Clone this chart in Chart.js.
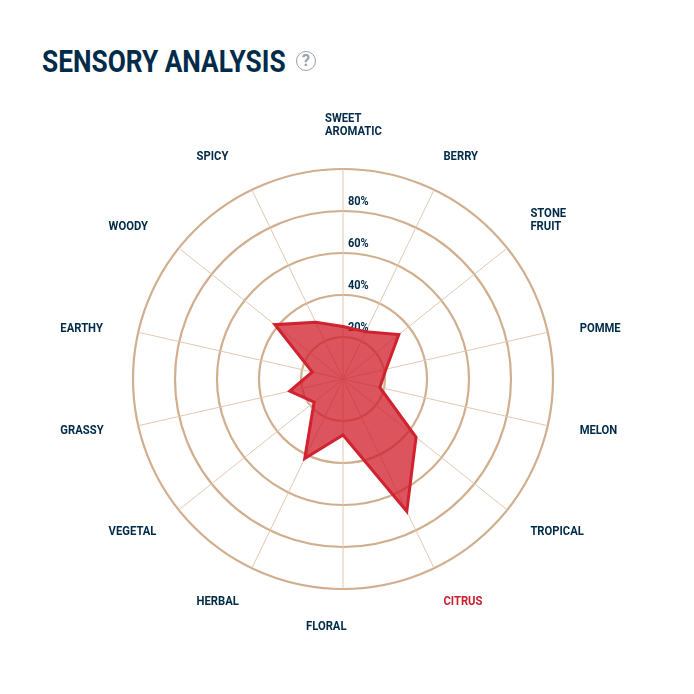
<!DOCTYPE html>
<html>
<head>
<meta charset="utf-8">
<title>Sensory Analysis</title>
<script src="https://cdn.jsdelivr.net/npm/chart.js@4"></script>
<style>
  html, body { margin: 0; padding: 0; background: #fff; }
  #wrap { position: relative; width: 694px; height: 694px; overflow: hidden; }
  #chart { position: absolute; left: 0; top: 0; }
  #title {
    position: absolute; left: 42px; top: 44px; margin: 0;
    font: 700 31px/36px Roboto, sans-serif; color: #002b49; white-space: nowrap;
    transform-origin: left center; transform: scaleX(0.847);
  }
  #help {
    position: absolute; left: 296px; top: 51px; width: 18px; height: 18px;
    border: 1.5px solid #9aa0ad; border-radius: 50%;
    font: 700 16px/18px Roboto, sans-serif; color: #9aa0ad; text-align: center;
  }
</style>
</head>
<body>
<div id="wrap">
  <h1 id="title">SENSORY ANALYSIS</h1>
  <div id="help">?</div>
  <canvas id="chart" width="694" height="694"></canvas>
</div>
<script>
// Datos
const categories = [
  ['SWEET', 'AROMATIC'], 'BERRY', ['STONE', 'FRUIT'], 'POMME', 'MELON', 'TROPICAL', 'CITRUS',
  'FLORAL', 'HERBAL', 'VEGETAL', 'GRASSY', 'EARTHY', 'WOODY', 'SPICY'
];
const sensoryValues = [25, 25, 34, 21, 18, 44.5, 70, 26.7, 42, 17.6, 26, 15, 41.5, 30];
const tickValues = [20, 40, 60, 80];
const highlighted = 'CITRUS';

// Desplazamiento de cada etiqueta respecto a su punto en el radio
const labelRadiusValue = 119;
const labelOffsets = [
  [-18, -4], [-8, 3], [-8, -3], [-7, 5], [-7, -4], [-8, -3], [-8, -2],
  [-37, -2], [-38, -2], [-39, -3], [-39, -4], [-39, 5], [-39, 4], [-38, 3]
];

const navy = '#002b49';

// Dibuja los ticks al lado del eje, debajo del poligono
const tickPlugin = {
  id: 'sideTicks',
  beforeDatasetsDraw(chart) {
    const scale = chart.scales.r, ctx = chart.ctx;
    ctx.save();
    ctx.font = '700 12.5px Roboto, sans-serif';
    ctx.fillStyle = navy;
    ctx.textAlign = 'left';
    ctx.textBaseline = 'middle';
    tickValues.forEach(v => {
      const y = scale.yCenter - scale.getDistanceFromCenterForValue(v);
      ctx.save();
      ctx.translate(scale.xCenter + 5, y - 9);
      ctx.scale(0.88, 1);
      ctx.fillText(v + '%', 0, 0);
      ctx.restore();
    });
    ctx.restore();
  }
};

// Etiquetas alineadas a la izquierda como en el original
const labelPlugin = {
  id: 'leftLabels',
  afterDraw(chart) {
    const scale = chart.scales.r, ctx = chart.ctx;
    ctx.save();
    ctx.font = '700 12.5px Roboto, sans-serif';
    ctx.textAlign = 'left';
    ctx.textBaseline = 'middle';
    categories.forEach((cat, i) => {
      const p = scale.getPointPositionForValue(i, labelRadiusValue);
      const lines = Array.isArray(cat) ? cat : [cat];
      ctx.fillStyle = cat === highlighted ? '#c8202f' : navy;
      lines.forEach((line, k) => {
        const y = p.y + labelOffsets[i][1] + (k - (lines.length - 1) / 2) * 13;
        ctx.save();
        ctx.translate(p.x + labelOffsets[i][0], y);
        ctx.scale(0.9, 1);
        ctx.fillText(line, 0, 0);
        ctx.restore();
      });
    });
    ctx.restore();
  }
};

new Chart(document.getElementById('chart'), {
  type: 'radar',
  data: {
    labels: categories,
    datasets: [{
      data: sensoryValues,
      borderColor: '#d0222f',
      backgroundColor: 'rgba(208, 30, 44, 0.76)',
      borderWidth: 3,
      pointRadius: 0,
      tension: 0
    }]
  },
  options: {
    responsive: false,
    animation: false,
    layout: { padding: { left: 133, right: 141, top: 169, bottom: 105 } },
    plugins: { legend: { display: false }, tooltip: { enabled: false } },
    scales: {
      r: {
        min: 0,
        max: 100,
        ticks: { stepSize: 20, display: false },
        pointLabels: { display: false },
        grid: { circular: true, color: '#d0ae8e', lineWidth: 2.2 },
        angleLines: { color: '#e0c8b2', lineWidth: 1 }
      }
    }
  },
  plugins: [tickPlugin, labelPlugin]
});
</script>
</body>
</html>
